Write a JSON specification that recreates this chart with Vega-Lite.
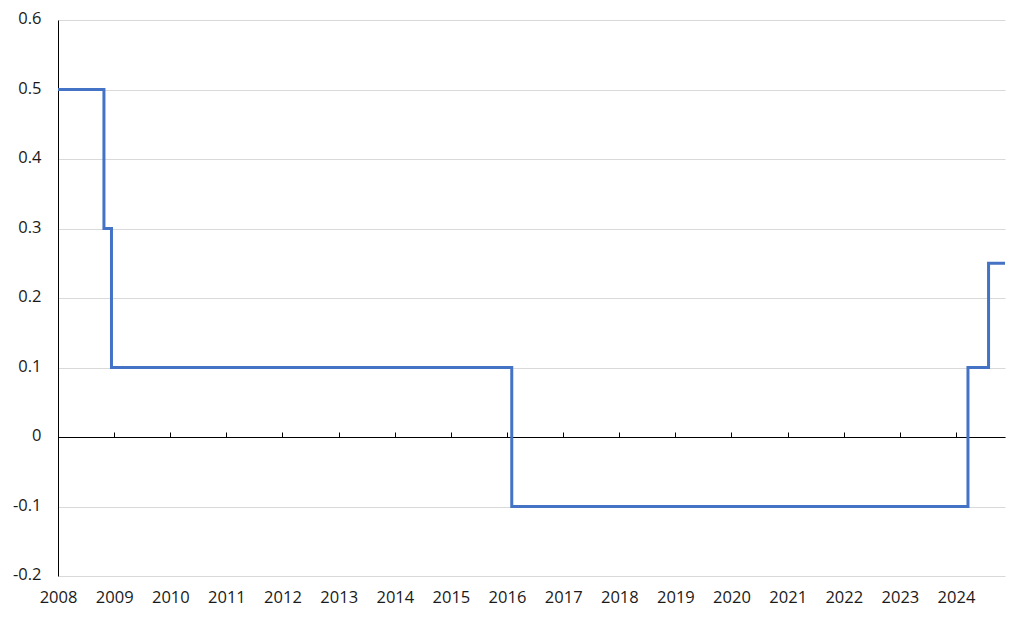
{
  "$schema": "https://vega.github.io/schema/vega-lite/v6.json",
  "width": 947,
  "height": 556,
  "autosize": "none",
  "padding": {"left": 58, "top": 20, "right": 19, "bottom": 45},
  "background": "white",
  "config": {
    "view": {"stroke": null},
    "font": "Open Sans",
    "axis": {"labelFont": "Open Sans", "labelFontSize": 16.5, "labelColor": "#1a1a1a"}
  },
  "data": {
    "values": [
      {"date": "2008-01-01", "rate": 0.5},
      {"date": "2008-10-26", "rate": 0.3},
      {"date": "2008-12-14", "rate": 0.1},
      {"date": "2016-02-01", "rate": -0.1},
      {"date": "2024-03-19", "rate": 0.1},
      {"date": "2024-07-31", "rate": 0.25},
      {"date": "2024-11-15", "rate": 0.25}
    ]
  },
  "layer": [
    {
      "mark": {"type": "line", "interpolate": "step-after", "color": "#4472C4", "strokeWidth": 3, "clip": true},
      "encoding": {
        "x": {
          "field": "date", "type": "temporal",
          "scale": {"domain": ["2008-01-01", "2024-11-15"]},
          "axis": {"orient": "bottom", "domain": false, "ticks": false, "grid": false, "tickCount": {"interval": "year", "step": 1}, "format": "%Y", "labelPadding": 13, "labelFlush": false, "labelOverlap": false},
          "title": null
        },
        "y": {
          "field": "rate", "type": "quantitative",
          "scale": {"domain": [-0.2, 0.6], "nice": false, "zero": false},
          "axis": {"values": [-0.2, -0.1, 0, 0.1, 0.2, 0.3, 0.4, 0.5, 0.6], "labelExpr": "replace(format(datum.value, '.1~f'), '\u2212', '-')", "grid": true, "gridColor": "#d9d9d9", "gridWidth": 1, "domainColor": "#000000", "domainWidth": 1, "ticks": false, "labelPadding": 17, "labelOffset": -1.5},
          "title": null
        }
      }
    },
    {
      "mark": {"type": "line", "interpolate": "step-after", "opacity": 0},
      "encoding": {
        "x": {
          "field": "date", "type": "temporal",
          "axis": {"orient": "top", "offset": -417, "labels": false, "grid": false, "domainColor": "#000000", "domainWidth": 1, "tickColor": "#000000", "tickSize": 5, "tickWidth": 1, "tickCount": {"interval": "year", "step": 1}},
          "title": null
        },
        "y": {"field": "rate", "type": "quantitative"}
      }
    }
  ],
  "resolve": {"axis": {"x": "independent"}}
}
